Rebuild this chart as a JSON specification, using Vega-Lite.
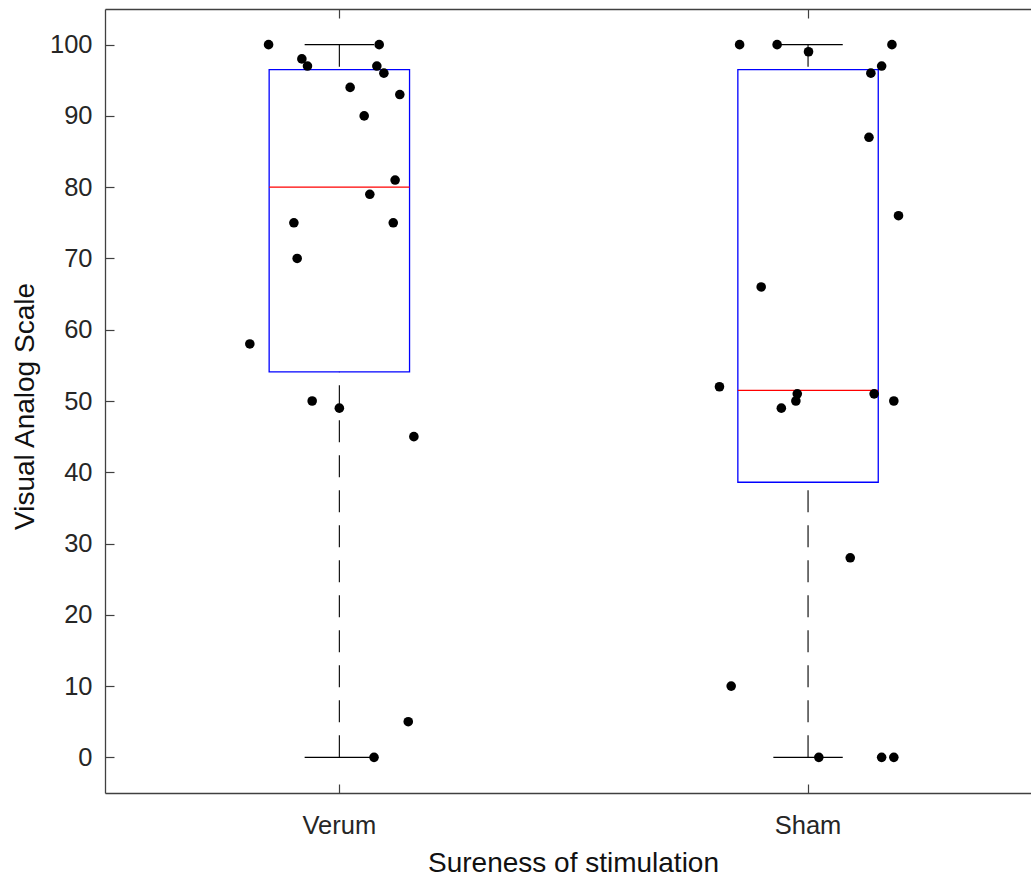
{
  "$schema": "https://vega.github.io/schema/vega-lite/v6.json",
  "autosize": "none",
  "width": 926,
  "height": 784,
  "padding": {"left": 105, "top": 9, "right": 0, "bottom": 86},
  "background": "white",
  "config": {
    "view": {"stroke": null},
    "axis": {
      "labelFont": "Liberation Sans",
      "titleFont": "Liberation Sans",
      "labelFontSize": 25.5,
      "titleFontSize": 28,
      "labelColor": "#262626",
      "titleColor": "#111111",
      "titleFontWeight": "normal",
      "domainColor": "#404040",
      "tickColor": "#404040",
      "domainWidth": 1.3,
      "tickWidth": 1.2,
      "grid": false
    }
  },
  "datasets": {
    "points": [
      {"group": "Verum", "vas": 100, "jitter": -0.151},
      {"group": "Verum", "vas": 98, "jitter": -0.080},
      {"group": "Verum", "vas": 97, "jitter": -0.068},
      {"group": "Verum", "vas": 100, "jitter": 0.085},
      {"group": "Verum", "vas": 97, "jitter": 0.080},
      {"group": "Verum", "vas": 96, "jitter": 0.095},
      {"group": "Verum", "vas": 94, "jitter": 0.023},
      {"group": "Verum", "vas": 93, "jitter": 0.129},
      {"group": "Verum", "vas": 90, "jitter": 0.053},
      {"group": "Verum", "vas": 81, "jitter": 0.119},
      {"group": "Verum", "vas": 79, "jitter": 0.065},
      {"group": "Verum", "vas": 75, "jitter": -0.097},
      {"group": "Verum", "vas": 75, "jitter": 0.115},
      {"group": "Verum", "vas": 70, "jitter": -0.090},
      {"group": "Verum", "vas": 58, "jitter": -0.191},
      {"group": "Verum", "vas": 50, "jitter": -0.058},
      {"group": "Verum", "vas": 49, "jitter": 0.000},
      {"group": "Verum", "vas": 45, "jitter": 0.159},
      {"group": "Verum", "vas": 5, "jitter": 0.147},
      {"group": "Verum", "vas": 0, "jitter": 0.074},
      {"group": "Sham", "vas": 100, "jitter": -0.146},
      {"group": "Sham", "vas": 100, "jitter": -0.066},
      {"group": "Sham", "vas": 100, "jitter": 0.179},
      {"group": "Sham", "vas": 99, "jitter": 0.001},
      {"group": "Sham", "vas": 97, "jitter": 0.157},
      {"group": "Sham", "vas": 96, "jitter": 0.134},
      {"group": "Sham", "vas": 87, "jitter": 0.130},
      {"group": "Sham", "vas": 76, "jitter": 0.193},
      {"group": "Sham", "vas": 66, "jitter": -0.100},
      {"group": "Sham", "vas": 52, "jitter": -0.189},
      {"group": "Sham", "vas": 51, "jitter": -0.023},
      {"group": "Sham", "vas": 50, "jitter": -0.026},
      {"group": "Sham", "vas": 49, "jitter": -0.057},
      {"group": "Sham", "vas": 51, "jitter": 0.141},
      {"group": "Sham", "vas": 50, "jitter": 0.183},
      {"group": "Sham", "vas": 28, "jitter": 0.090},
      {"group": "Sham", "vas": 10, "jitter": -0.164},
      {"group": "Sham", "vas": 0, "jitter": 0.023},
      {"group": "Sham", "vas": 0, "jitter": 0.157},
      {"group": "Sham", "vas": 0, "jitter": 0.183}
    ],
    "boxes": [
      {"group": "Verum", "lo": 0, "q1": 54.1, "median": 80, "q3": 96.5, "hi": 100},
      {"group": "Sham", "lo": 0, "q1": 38.6, "median": 51.5, "q3": 96.5, "hi": 100}
    ]
  },
  "resolve": {"axis": {"x": "independent"}},
  "layer": [
    {
      "data": {"name": "boxes"},
      "mark": {"type": "rule", "stroke": "#000000", "strokeWidth": 1.1, "strokeDash": [22, 13]},
      "encoding": {
        "x": {
          "field": "group", "type": "nominal", "sort": ["Verum", "Sham"],
          "scale": {"domain": ["Verum", "Sham"], "range": [0, 937.4], "paddingInner": 0, "paddingOuter": 0},
          "axis": {
            "orient": "bottom", "title": "Sureness of stimulation", "labelAngle": 0,
            "tickSize": -9, "labelPadding": 49, "labelBaseline": "alphabetic",
            "titleX": 468, "titleY": 78.5, "titleBaseline": "alphabetic", "titleAnchor": null, "titleAlign": "center"
          }
        },
        "y": {
          "field": "lo", "type": "quantitative",
          "scale": {"domain": [-5, 105], "nice": false, "zero": false},
          "axis": {
            "title": "Visual Analog Scale", "values": [0, 10, 20, 30, 40, 50, 60, 70, 80, 90, 100],
            "tickSize": -9, "labelPadding": 22, "titleX": -72, "titleY": 397,
            "titleBaseline": "alphabetic", "titleAlign": "center", "titleAngle": -90
          }
        },
        "y2": {"field": "q1"}
      }
    },
    {
      "data": {"name": "boxes"},
      "mark": {"type": "rule", "stroke": "#000000", "strokeWidth": 1.1, "strokeDash": [22, 13]},
      "encoding": {
        "x": {
          "field": "group", "type": "nominal", "sort": ["Verum", "Sham"],
          "axis": {"orient": "top", "title": null, "labels": false, "tickSize": -9}
        },
        "y": {"field": "hi", "type": "quantitative"},
        "y2": {"field": "q3"}
      }
    },
    {
      "data": {"name": "boxes"},
      "mark": {"type": "bar", "size": 140.4, "fillOpacity": 0, "stroke": "#0000ff", "strokeWidth": 1.3},
      "encoding": {
        "x": {"field": "group", "type": "nominal", "sort": ["Verum", "Sham"], "axis": null},
        "y": {"field": "q1", "type": "quantitative"},
        "y2": {"field": "q3"}
      }
    },
    {
      "data": {"name": "boxes"},
      "mark": {"type": "tick", "size": 140.4, "thickness": 1.3, "color": "#ff0000", "opacity": 1},
      "encoding": {
        "x": {"field": "group", "type": "nominal", "sort": ["Verum", "Sham"], "axis": null},
        "y": {"field": "median", "type": "quantitative"}
      }
    },
    {
      "data": {"name": "boxes"},
      "mark": {"type": "tick", "size": 69.4, "thickness": 1.2, "color": "#000000", "opacity": 1},
      "encoding": {
        "x": {"field": "group", "type": "nominal", "sort": ["Verum", "Sham"], "axis": null},
        "y": {"field": "hi", "type": "quantitative"}
      }
    },
    {
      "data": {"name": "boxes"},
      "mark": {"type": "tick", "size": 69.4, "thickness": 1.2, "color": "#000000", "opacity": 1},
      "encoding": {
        "x": {"field": "group", "type": "nominal", "sort": ["Verum", "Sham"], "axis": null},
        "y": {"field": "lo", "type": "quantitative"}
      }
    },
    {
      "data": {"name": "points"},
      "mark": {"type": "circle", "size": 92, "color": "#000000", "opacity": 1},
      "encoding": {
        "x": {"field": "group", "type": "nominal", "sort": ["Verum", "Sham"], "axis": null},
        "xOffset": {"field": "jitter", "type": "quantitative", "scale": {"domain": [-0.5, 0.5], "range": [0, 468.7]}},
        "y": {"field": "vas", "type": "quantitative"}
      }
    }
  ]
}
